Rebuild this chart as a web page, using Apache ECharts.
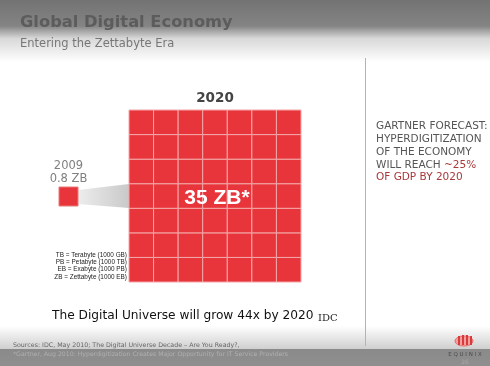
<!DOCTYPE html>
<html><head><meta charset="utf-8">
<script src="https://cdn.jsdelivr.net/npm/echarts@6/dist/echarts.min.js"></script>
<style>html,body{margin:0;padding:0;background:#fff}#c{width:490px;height:366px}</style>
</head><body><div id="c"></div>
<script>
// ---- data ----
const titleText = 'Global Digital Economy';
const subtitleText = 'Entering the Zettabyte Era';
const years = ['2009', '2020'];
const zettabytes = [0.8, 35];
const growthFactor = 44;
const gridColumns = ['c1', 'c2', 'c3', 'c4', 'c5', 'c6', 'c7'];
const gridRows = ['r1', 'r2', 'r3', 'r4', 'r5', 'r6', 'r7'];
const unitColumns = ['u1'];
const unitRows = ['u1'];
const storageUnits = ['TB = Terabyte (1000 GB)', 'PB = Petabyte (1000 TB)', 'EB = Exabyte (1000 PB)', 'ZB = Zettabyte (1000 EB)'];
const forecastLines = ['{g|GARTNER FORECAST:}', '{g|HYPERDIGITIZATION}', '{g|OF THE ECONOMY}', '{g|WILL REACH }{r|~25%}', '{r|OF GDP BY 2020}'];
const sourceLines = ['Sources: IDC, May 2010; The Digital Universe Decade \u2013 Are You Ready?,', '*Gartner, Aug 2010: Hyperdigitization Creates Major Opportunity for IT Service Providers'];
const pageNumber = '26';

// cells: one unit per grid position
const cells2020 = [];
gridRows.forEach((r, ri) => gridColumns.forEach((c, ci) => cells2020.push([c, r])));
const cells2009 = [[unitColumns[0], unitRows[0]]];

const RED = '#e8343b';
function cellRender(params, api) {
  const p = api.coord([api.value(0), api.value(1)]);
  const s = api.size([1, 1]);
  return {
    type: 'rect',
    shape: { x: p[0] - s[0] / 2, y: p[1] - s[1] / 2, width: s[0], height: s[1] },
    style: { fill: RED, stroke: '#f3a7a7', lineWidth: 1 }
  };
}
function unitRender(params, api) {
  const p = api.coord([api.value(0), api.value(1)]);
  const s = api.size([1, 1]);
  return {
    type: 'rect',
    shape: { x: p[0] - s[0] / 2, y: p[1] - s[1] / 2, width: s[0], height: s[1] },
    style: { fill: RED, stroke: '#e87a7a', lineWidth: 1 }
  };
}

const chart = echarts.init(document.getElementById('c'), null, { renderer: 'canvas' });
const F = 'DejaVu Sans, Verdana, sans-serif';
chart.setOption({
  animation: false,
  backgroundColor: '#ffffff',
  grid: [
    { left: 129, top: 110, width: 172, height: 172 },
    { left: 59, top: 187, width: 19, height: 19 }
  ],
  xAxis: [
    { type: 'category', data: gridColumns, gridIndex: 0, show: false },
    { type: 'category', data: unitColumns, gridIndex: 1, show: false }
  ],
  yAxis: [
    { type: 'category', data: gridRows, gridIndex: 0, show: false },
    { type: 'category', data: unitRows, gridIndex: 1, show: false }
  ],
  series: [
    { type: 'custom', name: years[1], xAxisIndex: 0, yAxisIndex: 0, data: cells2020, renderItem: cellRender, z: 5 },
    { type: 'custom', name: years[0], xAxisIndex: 1, yAxisIndex: 1, data: cells2009, renderItem: unitRender, z: 5 }
  ],
  graphic: [
    // header band
    { type: 'rect', z: -10, shape: { x: 0, y: 0, width: 490, height: 62 },
      style: { fill: new echarts.graphic.LinearGradient(0, 0, 0, 1, [
        { offset: 0, color: '#737373' }, { offset: 0.42, color: '#848484' },
        { offset: 0.62, color: '#d8d8d8' }, { offset: 1, color: '#ffffff' }]) } },
    // footer band
    { type: 'rect', z: -10, shape: { x: 0, y: 326, width: 490, height: 24 },
      style: { fill: new echarts.graphic.LinearGradient(0, 0, 0, 1, [
        { offset: 0, color: '#ffffff' }, { offset: 1, color: '#cdcdcd' }]) } },
    { type: 'rect', z: -10, shape: { x: 0, y: 349, width: 490, height: 17 },
      style: { fill: new echarts.graphic.LinearGradient(0, 0, 0, 1, [
        { offset: 0, color: '#8a8a8a' }, { offset: 1, color: '#8f8f8f' }]) } },
    // vertical divider
    { type: 'line', z: -5, shape: { x1: 365.5, y1: 58, x2: 365.5, y2: 346 }, style: { stroke: '#b3b3b3', lineWidth: 1 } },
    // funnel connecting 2009 to 2020
    { type: 'polygon', z: 1, shape: { points: [[78, 190], [129, 184], [129, 208], [78, 204]] },
      style: { fill: new echarts.graphic.LinearGradient(0, 0, 1, 0, [
        { offset: 0, color: '#ededed' }, { offset: 1, color: '#c9c9c9' }]) } },
    // titles
    { type: 'text', z: 20, x: 20, y: 23, style: { text: titleText, font: 'bold 16.3px ' + F, fill: '#5c5c5c', verticalAlign: 'middle' } },
    { type: 'text', z: 20, x: 20, y: 44, style: { text: subtitleText, font: '11.5px ' + F, fill: '#777777', verticalAlign: 'middle' } },
    // year labels
    { type: 'text', z: 20, x: 215, y: 98, style: { text: years[1], font: 'bold 13.5px ' + F, fill: '#444444', align: 'center', verticalAlign: 'middle' } },
    { type: 'text', z: 20, x: 68.5, y: 166, style: { text: years[0], font: '11.5px ' + F, fill: '#808080', align: 'center', verticalAlign: 'middle' } },
    { type: 'text', z: 20, x: 68.5, y: 179, style: { text: zettabytes[0] + ' ZB', font: '11.5px ' + F, fill: '#808080', align: 'center', verticalAlign: 'middle' } },
    { type: 'text', z: 20, x: 217, y: 198, style: { text: zettabytes[1] + ' ZB*', font: 'bold 21px Liberation Sans, Arial, sans-serif', fill: '#ffffff', align: 'center', verticalAlign: 'middle' } },
    // units legend
    { type: 'text', z: 20, x: 127, y: 266, style: { text: storageUnits.join('\n'), font: '6.4px Liberation Sans, Arial, sans-serif', lineHeight: 7.4, fill: '#222222', align: 'right', verticalAlign: 'middle' } },
    // statement
    { type: 'text', z: 20, x: 52, y: 316, style: { text: 'The Digital Universe will grow ' + growthFactor + 'x by 2020', font: '12.2px ' + F, fill: '#111111', verticalAlign: 'middle' } },
    { type: 'text', z: 20, x: 318, y: 318, style: { text: 'IDC', font: '10px DejaVu Serif, serif', fill: '#222222', verticalAlign: 'middle' } },
    // forecast
    { type: 'text', z: 20, x: 376, y: 152, style: { text: forecastLines.join('\n'), font: '10.5px ' + F, lineHeight: 12.8, align: 'left', verticalAlign: 'middle',
      rich: { g: { fill: '#555555', font: '10.5px ' + F, lineHeight: 12.8 }, r: { fill: '#a8383a', font: '10.5px ' + F, lineHeight: 12.8 } } } },
    // sources
    { type: 'text', z: 20, x: 13, y: 345, style: { text: sourceLines[0], font: '6.3px ' + F, fill: '#666666', verticalAlign: 'middle' } },
    { type: 'text', z: 20, x: 13, y: 354, style: { text: sourceLines[1], font: '6.2px ' + F, fill: '#b0b0b0', verticalAlign: 'middle' } },
    // Equinix logo
    { type: 'ellipse', z: 20, shape: { cx: 464, cy: 341, rx: 9, ry: 5 }, style: { fill: '#f0a0a0', stroke: '#e86a6a', lineWidth: 1 } },
    { type: 'rect', z: 21, shape: { x: 458, y: 336, width: 2, height: 9 }, style: { fill: '#d93a3a' } },
    { type: 'rect', z: 21, shape: { x: 462, y: 335, width: 2, height: 10 }, style: { fill: '#d93a3a' } },
    { type: 'rect', z: 21, shape: { x: 466, y: 335, width: 2, height: 10 }, style: { fill: '#d93a3a' } },
    { type: 'rect', z: 21, shape: { x: 470, y: 336, width: 2, height: 9 }, style: { fill: '#d93a3a' } },
    { type: 'text', z: 20, x: 465, y: 355, style: { text: 'E Q U I N I X', font: '5.5px ' + F, fill: '#4a4a4a', align: 'center', verticalAlign: 'middle' } },
    { type: 'text', z: 20, x: 465, y: 362, style: { text: pageNumber, font: '6px ' + F, fill: '#a8a8a8', align: 'center', verticalAlign: 'middle' } }
  ]
});
</script></body></html>
